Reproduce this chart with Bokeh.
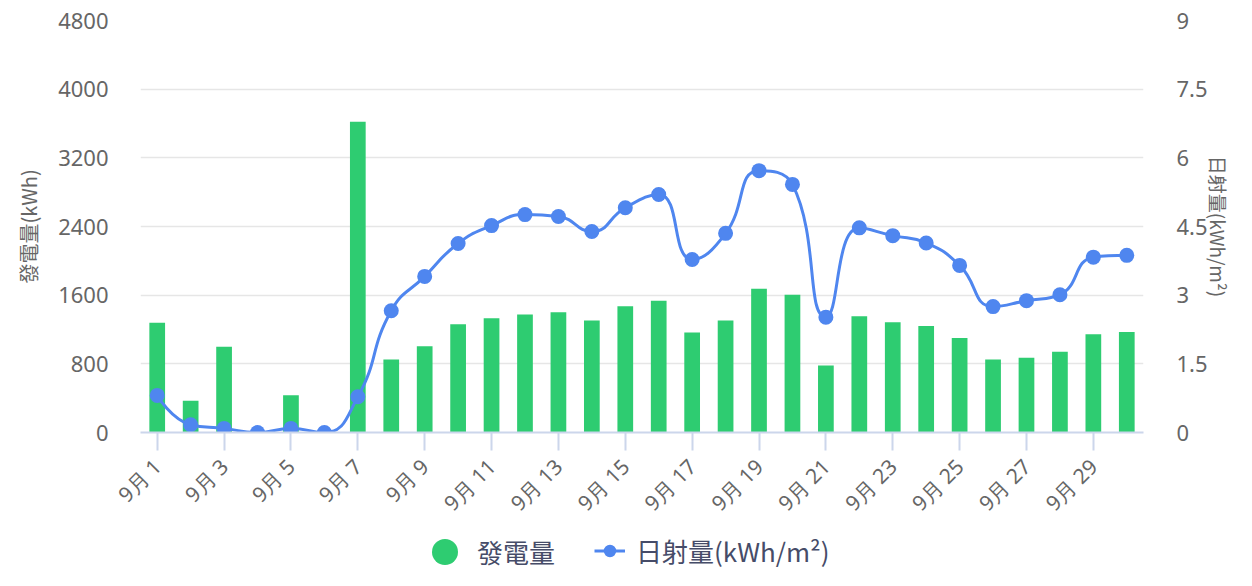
import math
from bokeh.plotting import figure
from bokeh.layouts import column
from bokeh.models import (Range1d, LinearAxis, FixedTicker, Legend, LegendItem,
                          ColumnDataSource)
from bokeh.embed import file_html
from bokeh.resources import INLINE

# ---------------- data ----------------
days = list(range(1, 31))
day_labels = [f"9月 {d}" for d in days]
generation = [1280, 370, 1000, 0, 435, 0, 3620, 850, 1005, 1260,
              1330, 1375, 1400, 1305, 1470, 1535, 1165, 1305, 1675, 1605,
              780, 1355, 1285, 1240, 1100, 850, 870, 940, 1145, 1170]
irradiance = [0.81, 0.17, 0.09, 0.0, 0.09, 0.0, 0.78, 2.66, 3.41, 4.13,
              4.52, 4.76, 4.72, 4.39, 4.91, 5.20, 3.78, 4.35, 5.72, 5.42,
              2.52, 4.47, 4.30, 4.14, 3.65, 2.75, 2.88, 3.01, 3.83, 3.87]
left_ticks = [0, 800, 1600, 2400, 3200, 4000, 4800]
right_ticks = [0, 1.5, 3, 4.5, 6, 7.5, 9]
x_tick_days = [1, 3, 5, 7, 9, 11, 13, 15, 17, 19, 21, 23, 25, 27, 29]
series_names = ["發電量", "日射量(kWh/m²)"]
left_title = "發電量(kWh)"
right_title = "日射量(kWh/m²)"

GREEN = "#2ecc71"
BLUE = "#4f86ef"
GREY = "#666666"
FONT = "Noto Sans"
CJK = "Noto Sans CJK TC"
NAN = float("nan")

W = 1236
H1, H2 = 532, 38
BL, BR, BT, BB = 140, 93, 20, 100
frame_w = W - BL - BR
frame_h = H1 - BT - BB
X0, X1 = 0.5, 30.5
Y2MAX = 9

p = figure(width=W, height=H1, output_backend="svg", toolbar_location=None,
           x_range=Range1d(X0, X1), y_range=Range1d(0, 4800),
           min_border_left=BL, min_border_right=BR, min_border_top=BT,
           min_border_bottom=BB, outline_line_color=None,
           background_fill_color="white", border_fill_color="white")
p.extra_y_ranges = {"rad": Range1d(0, Y2MAX)}

# bars
bars = p.vbar(x=days, top=generation, width=0.47, fill_color=GREEN,
              line_color=None)

# smooth line (echarts-like bezier smoothing computed in pixel space)
sx = frame_w / (X1 - X0)
sy = frame_h / Y2MAX
px = [d * sx for d in days]
py = [v * sy for v in irradiance]
n = len(px)
cin = [(px[i], py[i]) for i in range(n)]
cout = [(px[i], py[i]) for i in range(n)]
sm = 0.5
for i in range(1, n - 1):
    x, y = px[i], py[i]
    prx, pry = px[i - 1], py[i - 1]
    nx, ny = px[i + 1], py[i + 1]
    vx, vy = nx - prx, ny - pry
    l0 = math.hypot(x - prx, y - pry)
    l1 = math.hypot(nx - x, ny - y)
    r = l1 / (l0 + l1)
    ncx = x + vx * sm * r
    ncy = y + vy * sm * r
    ncx = max(min(ncx, max(nx, x)), min(nx, x))
    ncy = max(min(ncy, max(ny, y)), min(ny, y))
    vx, vy = ncx - x, ncy - y
    pcx = x - vx * l0 / l1
    pcy = y - vy * l0 / l1
    pcx = max(min(pcx, max(prx, x)), min(prx, x))
    pcy = max(min(pcy, max(pry, y)), min(pry, y))
    vx, vy = x - pcx, y - pcy
    ncx = x + vx * l1 / l0
    ncy = y + vy * l1 / l0
    cin[i] = (pcx, pcy)
    cout[i] = (ncx, ncy)

seg = ColumnDataSource(dict(
    x0=[days[i] for i in range(n - 1)],
    y0=[irradiance[i] for i in range(n - 1)],
    x1=[days[i + 1] for i in range(n - 1)],
    y1=[irradiance[i + 1] for i in range(n - 1)],
    cx0=[cout[i][0] / sx for i in range(n - 1)],
    cy0=[cout[i][1] / sy for i in range(n - 1)],
    cx1=[cin[i + 1][0] / sx for i in range(n - 1)],
    cy1=[cin[i + 1][1] / sy for i in range(n - 1)],
))
p.bezier(x0="x0", y0="y0", x1="x1", y1="y1", cx0="cx0", cy0="cy0",
         cx1="cx1", cy1="cy1", source=seg, y_range_name="rad",
         line_color=BLUE, line_width=3)
dots = p.scatter(x=days, y=irradiance, y_range_name="rad", size=15,
                 fill_color=BLUE, line_color=None)

# axes
xa = p.xaxis[0]
xa.ticker = FixedTicker(ticks=x_tick_days)
xa.major_label_overrides = {d: day_labels[d - 1] for d in x_tick_days}
xa.major_label_orientation = math.pi / 4
xa.major_label_text_font = FONT
xa.major_label_text_font_size = "21px"
xa.major_label_text_color = GREY
xa.major_label_standoff = 12
xa.axis_line_color = "#ccd6eb"
xa.axis_line_width = 2
xa.major_tick_line_color = "#ccd6eb"
xa.major_tick_line_width = 2
xa.major_tick_out = 18
xa.major_tick_in = 0
xa.minor_tick_line_color = None

ya = p.yaxis[0]
ya.ticker = FixedTicker(ticks=left_ticks)
ya.axis_line_color = None
ya.major_tick_line_color = None
ya.minor_tick_line_color = None
ya.major_label_standoff = 26
ya.major_label_text_font = FONT
ya.major_label_text_font_size = "22px"
ya.major_label_text_color = GREY
ya.axis_label = left_title
ya.axis_label_text_font = CJK
ya.axis_label_text_font_size = "20px"
ya.axis_label_text_font_style = "normal"
ya.axis_label_text_color = GREY
ya.axis_label_standoff = 12

ra = LinearAxis(y_range_name="rad", ticker=FixedTicker(ticks=right_ticks))
ra.major_label_overrides = {t: (f"{t:g}") for t in right_ticks}
ra.axis_line_color = None
ra.major_tick_line_color = None
ra.minor_tick_line_color = None
ra.major_label_standoff = 27
ra.major_label_text_font = FONT
ra.major_label_text_font_size = "22px"
ra.major_label_text_color = GREY
ra.axis_label = right_title
ra.axis_label_text_font = CJK
ra.axis_label_text_font_size = "19px"
ra.axis_label_text_font_style = "normal"
ra.axis_label_text_color = GREY
ra.axis_label_standoff = -6
p.add_layout(ra, "right")

p.xgrid.grid_line_color = None
p.ygrid.grid_line_color = "#e6e6e6"
p.ygrid.grid_line_width = 1.5
p.ygrid.ticker = FixedTicker(ticks=left_ticks)

# ---------------- legend strip ----------------
lg = figure(width=W, height=H2, output_backend="svg", toolbar_location=None,
            x_range=Range1d(0, 1), y_range=Range1d(0, 1),
            x_axis_type=None, y_axis_type=None, min_border=0,
            outline_line_color=None, background_fill_color="white",
            border_fill_color="white")
lg.xgrid.visible = False
lg.ygrid.visible = False
key_green = lg.scatter(x=[NAN], y=[NAN], marker="circle", fill_color=GREEN,
                       line_color=None)
key_line = lg.line(x=[NAN], y=[NAN], line_color=BLUE, line_width=3)
key_dot = lg.scatter(x=[NAN], y=[NAN], marker="circle", fill_color=BLUE,
                     line_color=None)

common = dict(padding=0, margin=0, spacing=0, border_line_alpha=0,
              background_fill_alpha=0, label_text_font=CJK,
              label_text_font_size="26px", label_text_color="#464c68")
leg_a = Legend(items=[LegendItem(label=series_names[0], renderers=[key_green])],
               location=(272, -14), glyph_width=65, glyph_height=65,
               label_standoff=-11, **common)
leg_b = Legend(items=[LegendItem(label=series_names[1],
                                 renderers=[key_line, key_dot])],
               location=(454, 1), glyph_width=31, glyph_height=35,
               label_standoff=11, **common)
lg.add_layout(leg_a)
lg.add_layout(leg_b)

layout = column(p, lg, spacing=0)
open("out.html", "w").write(file_html(layout, INLINE))
